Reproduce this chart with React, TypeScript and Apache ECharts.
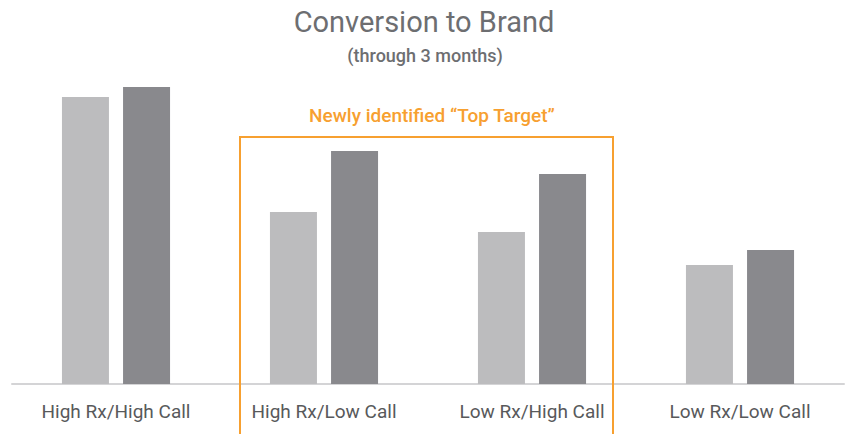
import React, { useEffect, useRef } from "react";
import * as echarts from "echarts";

const categories = ["High Rx/High Call", "High Rx/Low Call", "Low Rx/High Call", "Low Rx/Low Call"];
const seriesLight = [95.7, 57.3, 50.7, 39.7];
const seriesDark = [99.0, 77.7, 70.0, 44.7];
const titleText = "Conversion to Brand";
const subtitleText = "(through 3 months)";
const calloutText = "Newly identified \u201cTop Target\u201d";

export default function App() {
  const ref = useRef<HTMLDivElement>(null);
  useEffect(() => {
    if (!ref.current) return;
    const chart = echarts.init(ref.current, undefined, { renderer: "svg" });
    chart.setOption({
      animation: false,
      backgroundColor: "#ffffff",
      textStyle: { fontFamily: "Roboto" },
      grid: { left: 12, right: 1, top: 84, bottom: 50 },
      xAxis: {
        type: "category",
        data: categories,
        axisLine: { show: true, lineStyle: { color: "#d4d4d6", width: 2 } },
        axisTick: { show: false },
        axisLabel: { fontFamily: "Roboto", fontSize: 19, color: "#58595b", margin: 18 },
      },
      yAxis: {
        type: "value",
        min: 0,
        max: 100,
        show: false,
        splitLine: { show: false },
      },
      series: [
        {
          type: "bar",
          data: seriesLight,
          barWidth: 47,
          barGap: "30%",
          itemStyle: { color: "#bcbcbe" },
        },
        {
          type: "bar",
          data: seriesDark,
          barWidth: 47,
          itemStyle: { color: "#89898d" },
        },
      ],
      graphic: [
        {
          type: "text",
          x: 424,
          y: 22,
          style: {
            text: titleText,
            fontFamily: "Roboto",
            fontSize: 29,
            fontWeight: 400,
            fill: "#6d6e71",
            align: "center",
            verticalAlign: "middle",
          },
        },
        {
          type: "text",
          x: 425,
          y: 55,
          style: {
            text: subtitleText,
            fontFamily: "Roboto",
            fontSize: 18,
            fontWeight: 500,
            fill: "#6d6e71",
            align: "center",
            verticalAlign: "middle",
          },
        },
        {
          type: "polyline",
          shape: { points: [[240, 440], [240, 137], [613, 137], [613, 440]] },
          style: { stroke: "#f7a030", lineWidth: 2, fill: "none" },
          z: 10,
        },
        {
          type: "text",
          x: 432,
          y: 115,
          style: {
            text: calloutText,
            fontFamily: "Roboto",
            fontSize: 19,
            fontWeight: 500,
            fill: "#f7a030",
            align: "center",
            verticalAlign: "middle",
          },
          z: 10,
        },
      ],
    });
    return () => chart.dispose();
  }, []);
  return <div ref={ref} style={{ position: "fixed", left: 0, top: 0, width: 845, height: 434 }} />;
}
